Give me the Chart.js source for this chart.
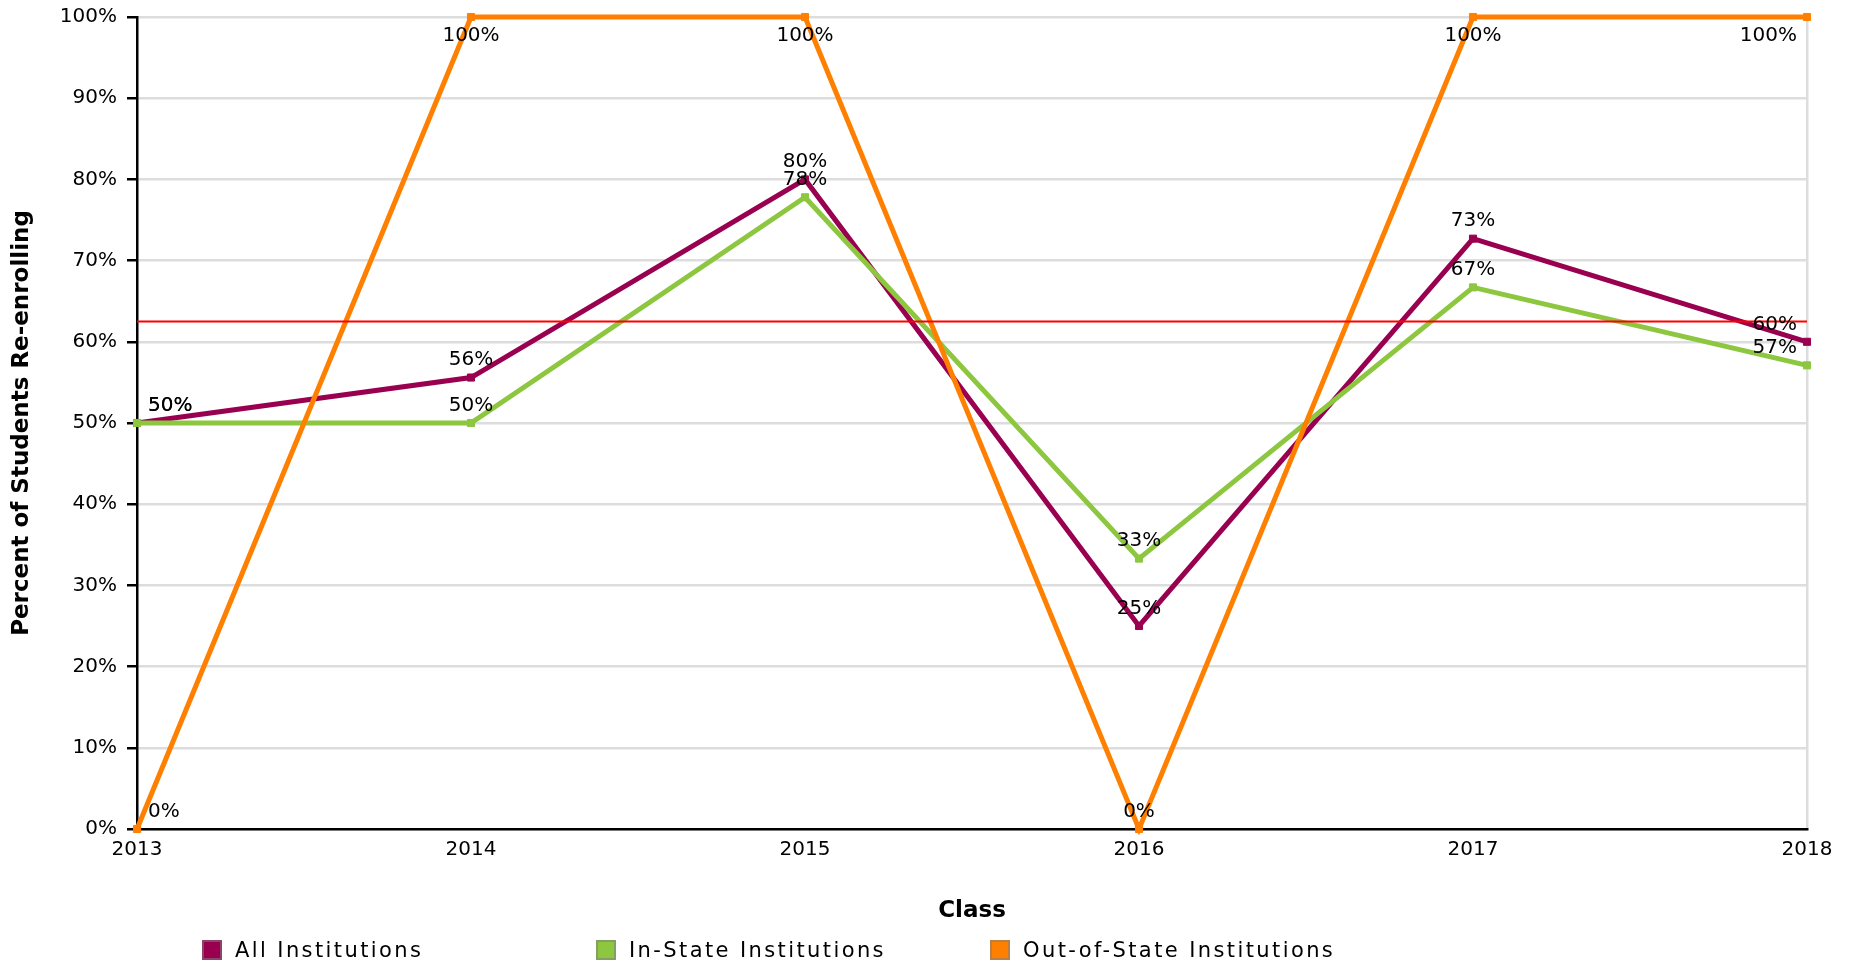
<!DOCTYPE html>
<html>
<head>
<meta charset="utf-8">
<script src="https://cdn.jsdelivr.net/npm/chart.js@4/dist/chart.umd.min.js"></script>
<style>
  html, body { margin: 0; padding: 0; background: #fff; }
  #wrap { position: relative; width: 1858px; height: 966px; }
  #legend {
    position: absolute;
    left: 202px;
    top: 940px;
    display: flex;
    font-family: "DejaVu Sans", sans-serif;
    font-size: 21px;
    letter-spacing: 2.4px;
    color: #000;
  }
  .legend-item { display: flex; align-items: center; width: 394px; height: 20px; }
  .legend-box {
    width: 20px;
    height: 20px;
    box-sizing: border-box;
    border: 2px solid rgba(128, 128, 128, 0.55);
    margin-right: 13px;
  }
</style>
</head>
<body>
<div id="wrap">
  <canvas id="chart" width="1858" height="966"></canvas>
  <div id="legend"></div>
</div>
<script>
const classes = ["2013", "2014", "2015", "2016", "2017", "2018"];
const allInstitutions = [50, 55.6, 80, 25, 72.7, 60];
const inStateInstitutions = [50, 50, 77.8, 33.3, 66.7, 57.1];
const outOfStateInstitutions = [0, 100, 100, 0, 100, 100];
const averageLine = [62.5, 62.5, 62.5, 62.5, 62.5, 62.5];
const yTicks = [0, 10, 20, 30, 40, 50, 60, 70, 80, 90, 100];

const seriesNames = ["All Institutions", "In-State Institutions", "Out-of-State Institutions"];
const seriesColors = ["#990050", "#8dc63f", "#ff8000"];

const FONT = "'DejaVu Sans', sans-serif";

function makeSeries(i, data) {
  return {
    label: seriesNames[i],
    data: data,
    borderColor: seriesColors[i],
    backgroundColor: seriesColors[i],
    borderWidth: 5,
    pointStyle: "rect",
    pointRadius: 5,
    pointBorderWidth: 1,
    pointHoverRadius: 5,
    tension: 0,
    fill: false,
    clip: false,
    order: 3 - i,
    showLabels: true,
  };
}

// value labels over each point, placed with the scales' own pixel positions
const valueLabels = {
  id: "valueLabels",
  afterDatasetsDraw(chart) {
    const { ctx } = chart;
    ctx.save();
    ctx.font = "20px " + FONT;
    ctx.fillStyle = "#000";
    ctx.textBaseline = "middle";
    chart.data.datasets.forEach((ds, di) => {
      if (!ds.showLabels) return;
      const meta = chart.getDatasetMeta(di);
      meta.data.forEach((pt, i) => {
        const v = ds.data[i];
        let x = pt.x;
        let align = "center";
        if (i === 0) { align = "left"; x += 11; }
        if (i === ds.data.length - 1) { align = "right"; x -= 10; }
        const y = v >= 100 ? pt.y + 19 : pt.y - 17.5;
        ctx.textAlign = align;
        ctx.fillText(Math.round(v) + "%", x, y);
      });
    });
    ctx.restore();
  },
};

new Chart(document.getElementById("chart"), {
  type: "line",
  data: {
    labels: classes,
    datasets: [
      makeSeries(0, allInstitutions),
      makeSeries(1, inStateInstitutions),
      makeSeries(2, outOfStateInstitutions),
      {
        label: "Average",
        data: averageLine,
        borderColor: "#ff0000",
        borderWidth: 2,
        pointRadius: 0,
        pointHoverRadius: 0,
        fill: false,
        order: 0,
      },
    ],
  },
  options: {
    responsive: false,
    animation: false,
    devicePixelRatio: 1,
    events: [],
    layout: { padding: { left: 0, top: 17, right: 51, bottom: 37 } },
    plugins: {
      legend: { display: false },
      tooltip: { enabled: false },
    },
    scales: {
      x: {
        offset: false,
        afterFit: (s) => { s.height = 100; },
        border: { display: true, color: "#000", width: 2.5 },
        grid: {
          drawTicks: false,
          lineWidth: 2.5,
          color: (c) => (c.index === classes.length - 1 ? "#dddddd" : "rgba(0,0,0,0)"),
        },
        ticks: {
          color: "#000",
          padding: 9,
          maxRotation: 0,
          autoSkip: false,
          font: { family: FONT, size: 20 },
        },
        title: {
          display: true,
          text: "Class",
          color: "#000",
          font: { family: FONT, size: 23, weight: "bold" },
          padding: { top: 4, bottom: 4 },
        },
      },
      y: {
        min: 0,
        max: 100,
        afterFit: (s) => {
          s.width = 137;
          s.paddingTop = 0;
          s.paddingBottom = 0;
        },
        afterBuildTicks: (s) => { s.ticks = yTicks.map((v) => ({ value: v })); },
        border: { display: true, color: "#000", width: 2.5 },
        grid: {
          color: "#dddddd",
          lineWidth: 2.5,
          tickColor: "#000",
          tickLength: 10,
          tickWidth: 2.5,
        },
        ticks: {
          color: "#000",
          padding: 10,
          font: { family: FONT, size: 20 },
          callback: (v) => v + "%",
        },
        title: {
          display: true,
          text: "Percent of Students Re-enrolling",
          color: "#000",
          font: { family: FONT, size: 23, weight: "bold" },
          padding: { top: 8, bottom: 4 },
        },
      },
    },
  },
  plugins: [valueLabels],
});

const legend = document.getElementById("legend");
seriesNames.forEach((name, i) => {
  const item = document.createElement("div");
  item.className = "legend-item";
  const box = document.createElement("span");
  box.className = "legend-box";
  box.style.background = seriesColors[i];
  const text = document.createElement("span");
  text.textContent = name;
  item.appendChild(box);
  item.appendChild(text);
  legend.appendChild(item);
});
</script>
</body>
</html>
